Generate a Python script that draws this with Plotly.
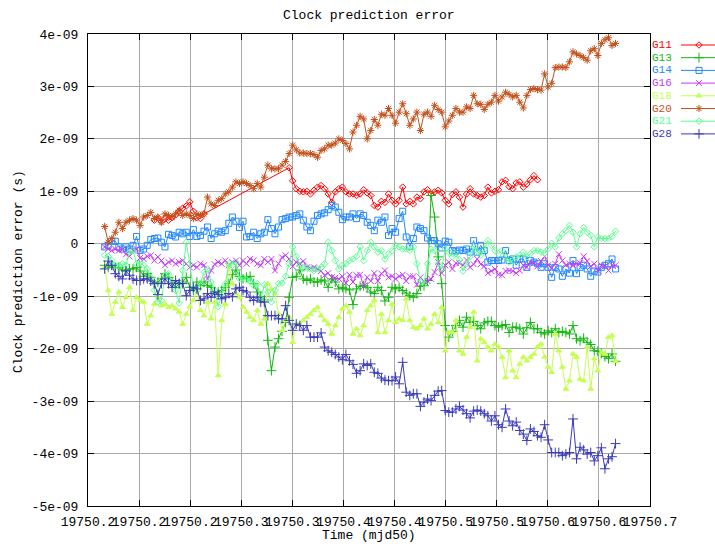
import plotly.graph_objects as go

# ---------------- data (clock prediction error, units of 1e-9 s) ----------------
EPOCH0 = 19750.1663          # first sample (mjd50)
STEP_DAYS = 5.0 / 1440.0     # 5-minute sampling
N_SAMPLES = 145
times = [EPOCH0 + k * STEP_DAYS for k in range(N_SAMPLES)]

G11 = ([None] * 14 +
       [0.45, 0.50, 0.42, 0.48, 0.45, 0.50, 0.55, 0.62, 0.68, 0.72, 0.80, 0.62, 0.50, 0.48, 0.57] +
       [None] * 23 +
       [1.45,
        1.20, 1.05, 1.00, 0.99, 1.00, 0.95, 1.02,
        1.08, 1.11, 1.05, 0.95, 0.79, 0.99, 1.05, 1.08, 0.99, 0.95,
        0.95, 0.92, 0.95, 1.03, 0.97, 0.92, 0.73, 0.70, 0.81, 0.79,
        0.95, 0.83, 0.76, 0.83, 1.08, 0.76, 0.81, 0.76, 0.89, 0.86,
        0.99, 1.03, 0.95, 0.99, 1.02, 0.97, 0.83, 0.76, 0.94, 0.99,
        0.89, 0.70, 0.95, 1.05, 0.95, 0.92, 0.89, 0.92, 1.08, 0.97,
        1.00, 1.03, 1.18, 1.21, 1.09, 1.05, 1.16, 1.18, 1.08, 1.14,
        1.22, 1.30, 1.22] +
       [None] * 22)

G13 = [-0.41, -0.45, -0.41, -0.45, -0.46, -0.50, -0.51, -0.48, -0.48, -0.45,
       -0.52, -0.62, -0.57, -0.64, -0.76, -0.73, -0.67, -0.57, -0.64, -0.73,
       -0.83, -0.76, -0.73, -0.64, -0.83, -0.89, -0.73, -0.80, -0.73, -0.80,
       -0.83, -0.95, -0.92, -0.89, -0.83, -0.76, -0.59, -0.50, -0.62, -0.67,
       -0.64, -0.62, -0.76, -0.92, -1.01, -1.07, -1.84, -2.42, -1.97, -1.81,
       -1.67, -1.50, -1.02, -0.64, -0.62, -0.50, -0.67, -0.70, -0.67, -0.73,
       -0.73, -0.69, -0.71, -0.83, -0.67, -0.73, -0.86, -0.83, -0.86, -0.88,
       -1.16, -0.86, -0.81, -0.80, -0.83, -0.92, -0.95, -0.83, -0.89, -1.09,
       -1.02, -0.83, -0.86, -0.83, -0.89, -0.94, -0.99, -1.02, -0.95, -0.81,
       -0.80, -0.70, 0.92, 0.51, -0.25, -0.76, -1.56, -1.78, -1.67, -1.56,
       -1.46, -1.59, -1.40, -1.50, -1.48, -1.56, -1.62, -1.51, -1.48, -1.48,
       -1.56, -1.59, -1.56, -1.54, -1.69, -1.59, -1.59, -1.62, -1.72, -1.60,
       -1.50, -1.62, -1.62, -1.69, -1.72, -1.66, -1.69, -1.62, -1.69, -1.67,
       -1.69, -1.72, -1.56, -1.81, -1.85, -1.80, -1.88, -1.92, -2.04, -2.05,
       -2.09, -2.15, -2.19, -2.10, -2.24]

G14 = [-0.06, -0.03, 0.05, 0.05, -0.06, -0.10, -0.06, -0.10, -0.03, 0.14,
       -0.13, -0.10, -0.03, 0.08, 0.10, 0.11, 0.03, -0.06, 0.18, 0.16,
       0.13, 0.22, 0.19, 0.22, 0.14, 0.27, 0.14, 0.16, 0.24, 0.32,
       0.10, 0.19, 0.24, 0.22, 0.25, 0.39, 0.51, 0.43, 0.31, 0.43,
       0.13, 0.14, 0.22, 0.10, 0.19, 0.22, 0.46, 0.29, 0.19, 0.32,
       0.46, 0.48, 0.51, 0.51, 0.54, 0.57, 0.45, 0.32, 0.25, 0.43,
       0.54, 0.57, 0.59, 0.65, 0.73, 0.70, 0.60, 0.46, 0.51, 0.51,
       0.57, 0.48, 0.57, 0.54, 0.41, 0.35, 0.25, 0.45, 0.41, 0.51,
       0.16, 0.29, 0.22, 0.48, 0.62, 0.13, -0.05, 0.10, 0.32, 0.29,
       0.25, 0.11, 0.06, 0.06, 0.00, -0.08, 0.05, 0.03, -0.13, -0.14,
       -0.12, -0.13, -0.10, -0.16, 0.06, -0.16, -0.03, -0.13, -0.35, -0.32,
       -0.32, -0.32, -0.31, -0.13, -0.32, -0.29, -0.41, -0.29, -0.29, -0.45,
       -0.32, -0.35, -0.38, -0.45, -0.38, -0.45, -0.64, -0.45, -0.48, -0.62,
       -0.48, -0.56, -0.32, -0.57, -0.45, -0.41, -0.48, -0.62, -0.52, -0.54,
       -0.45, -0.41, -0.38, -0.29, -0.48]

G16 = [-0.06, -0.10, -0.13, -0.10, -0.13, -0.11, -0.20, -0.24, -0.13, -0.10,
       -0.27, -0.29, -0.24, -0.22, -0.32, -0.25, -0.32, -0.41, -0.35, -0.32,
       -0.38, -0.35, -0.32, -0.38, -0.45, -0.41, -0.45, -0.38, -0.41, -0.67,
       -0.51, -0.39, -0.35, -0.38, -0.32, -0.41, -0.35, -0.32, -0.41, -0.32,
       -0.38, -0.29, -0.32, -0.38, -0.41, -0.29, -0.35, -0.29, -0.51, -0.38,
       -0.26, -0.22, -0.29, -0.43, -0.35, -0.38, -0.33, -0.45, -0.47, -0.45,
       -0.48, -0.52, -0.60, -0.56, -0.64, -0.65, -0.67, -0.62, -0.75, -0.59,
       -0.73, -0.60, -0.59, -0.81, -0.64, -0.71, -0.56, -0.71, -0.57, -0.51,
       -0.64, -0.62, -0.67, -0.62, -0.59, -0.71, -0.62, -0.62, -0.78, -0.64,
       -0.71, -0.71, -0.67, -0.54, -0.35, -0.56, -0.41, -0.35, -0.48, -0.37,
       -0.37, -0.41, -0.31, -0.45, -0.39, -0.29, -0.39, -0.43, -0.56, -0.52,
       -0.48, -0.59, -0.60, -0.52, -0.51, -0.52, -0.56, -0.51, -0.41, -0.45,
       -0.35, -0.37, -0.43, -0.33, -0.24, -0.41, -0.46, -0.38, -0.20, -0.32,
       -0.41, -0.38, -0.41, -0.38, -0.37, -0.24, -0.33, -0.43, -0.38, -0.51,
       -0.41, -0.43, -0.51, -0.41, -0.41]

G18 = [-0.45, -0.89, -1.34, -1.11, -0.92, -1.21, -1.02, -0.83, -1.27, -1.02,
       -1.08, -1.11, -1.53, -1.37, -1.15, -1.02, -1.18, -1.15, -1.21, -1.18,
       -1.24, -1.30, -1.53, -1.34, -1.20, -1.08, -0.89, -1.27, -1.37, -1.11,
       -1.43, -1.11, -2.51, -1.46, -1.15, -0.41, -0.76, -0.95, -1.02, -1.21,
       -1.30, -1.40, -1.46, -1.27, -1.53, -1.43, -0.76, -0.86, -0.95, -1.34,
       -1.65, -1.46, -1.40, -1.88, -1.53, -1.53, -1.46, -1.40, -1.34, -1.27,
       -1.21, -1.37, -1.46, -1.53, -1.72, -1.56, -1.40, -1.24, -1.18, -1.30,
       -1.72, -1.62, -1.75, -1.56, -1.27, -1.18, -1.08, -1.69, -1.34, -1.69,
       -1.46, -1.15, -1.50, -1.43, -1.46, -1.05, -1.46, -1.59, -1.62, -1.56,
       -1.43, -1.62, -1.53, -1.34, -1.50, -1.21, -2.04, -1.69, -1.69, -1.46,
       -2.04, -2.10, -1.78, -1.59, -1.30, -2.23, -1.81, -1.88, -1.97, -2.04,
       -1.91, -1.97, -2.16, -2.55, -2.04, -2.42, -2.55, -2.29, -2.16, -2.23,
       -2.16, -2.10, -1.97, -1.91, -2.16, -2.35, -2.45, -1.72, -2.04, -2.35,
       -2.77, -2.61, -2.10, -2.16, -2.58, -2.61, -1.97, -2.77, -2.19, -2.42,
       -2.07, -2.10, -1.78, -1.75, -2.24]

G20 = [0.33, 0.03, 0.10, 0.22, 0.41, 0.29, 0.41, 0.45, 0.48, 0.45,
       0.35, 0.51, 0.54, 0.60, 0.48, 0.51, 0.41, 0.57, 0.54, 0.51,
       0.57, 0.64, 0.54, 0.57, 0.54, 0.48, 0.57, 0.54, 0.57, 0.89,
       0.76, 0.73, 0.83, 0.86, 0.95, 0.99, 1.08, 1.18, 1.15, 1.18,
       1.15, 1.11, 1.05, 1.15, 1.08, 1.27, 1.50, 1.43, 1.43, 1.43,
       1.50, 1.57, 1.72, 1.88, 1.79, 1.73, 1.73, 1.72, 1.72, 1.70,
       1.65, 1.78, 1.81, 1.88, 1.88, 1.92, 2.00, 1.97, 1.91, 1.81,
       2.13, 2.26, 2.43, 2.38, 2.00, 2.16, 2.37, 2.26, 2.47, 2.45,
       2.58, 2.45, 2.30, 2.51, 2.67, 2.48, 2.26, 2.38, 2.51, 2.16,
       2.47, 2.51, 2.43, 2.64, 2.56, 2.51, 2.23, 2.34, 2.45, 2.58,
       2.51, 2.51, 2.61, 2.58, 2.83, 2.67, 2.66, 2.56, 2.66, 2.70,
       2.83, 2.72, 2.80, 2.89, 2.85, 2.80, 2.83, 2.70, 2.59, 2.83,
       2.94, 2.96, 2.94, 2.93, 3.24, 2.99, 3.06, 3.36, 3.37, 3.37,
       3.36, 3.47, 3.66, 3.62, 3.59, 3.55, 3.50, 3.68, 3.72, 3.59,
       3.82, 3.89, 3.93, 3.78, 3.82]

G21 = [-0.22, -0.24, -0.32, -0.41, -0.41, -0.38, -0.41, -0.16, -0.13, -0.38,
       -0.35, -0.41, -0.48, -0.64, -0.89, -1.11, -1.08, -0.60, -0.57, -0.73,
       -0.89, -1.13, -0.51, 0.03, -0.38, -0.86, -0.89, -0.75, -0.54, -0.48,
       -0.73, -0.89, -1.20, -0.95, -0.76, -0.38, -0.41, -0.35, -0.67, -0.64,
       -0.69, -0.71, -0.80, -0.76, -1.08, -0.78, -0.92, -1.11, -0.89, -0.76,
       -0.75, -0.62, -0.38, -0.06, -0.24, -0.41, -0.48, -0.45, -0.48, -0.51,
       -0.48, -0.45, -0.38, 0.03, -0.13, -0.32, -0.48, -0.41, -0.38, -0.32,
       -0.29, -0.24, -0.06, -0.32, -0.13, 0.03, -0.06, -0.16, -0.13, -0.29,
       -0.19, -0.13, -0.03, -0.06, -0.10, -0.10, -0.13, -0.06, -0.38, -0.73,
       -0.76, -0.38, -0.10, -0.13, -0.38, -0.48, -0.10, -0.16, -0.25, -0.19,
       -0.30, -0.52, -0.38, -0.25, -0.05, -0.14, -0.22, -0.11, 0.06, -0.03,
       -0.13, -0.19, -0.13, -0.25, -0.35, -0.32, -0.25, -0.22, -0.16, -0.25,
       -0.19, -0.13, -0.13, -0.16, -0.18, -0.10, 0.01, -0.06, 0.11, 0.19,
       0.25, 0.35, 0.22, -0.06, 0.19, 0.31, 0.22, 0.16, -0.06, 0.13,
       0.10, 0.10, 0.10, 0.14, 0.24]

G28 = [-0.48, -0.33, -0.41, -0.57, -0.62, -0.67, -0.52, -0.60, -0.67, -0.70,
       -0.70, -0.67, -0.67, -0.71, -0.76, -0.97, -0.76, -0.67, -0.76, -0.83,
       -0.70, -0.76, -0.76, -0.99, -0.89, -0.83, -0.86, -1.08, -1.05, -0.95,
       -1.02, -0.92, -0.97, -1.05, -1.02, -0.95, -1.01, -0.86, -0.83, -0.89,
       -0.92, -1.02, -1.08, -1.02, -1.11, -1.11, -1.37, -1.37, -1.37, -1.43,
       -1.43, -1.18, -1.46, -1.65, -1.53, -1.56, -1.65, -1.56, -1.78, -1.78,
       -1.78, -1.70, -1.97, -2.04, -2.07, -2.11, -2.16, -2.21, -2.11, -2.23,
       -2.30, -2.47, -2.42, -2.29, -2.32, -2.29, -2.45, -2.47, -2.56, -2.60,
       -2.61, -2.61, -2.54, -2.67, -2.26, -2.83, -2.89, -2.86, -2.86, -3.10,
       -3.02, -2.96, -2.99, -2.89, -2.81, -2.80, -3.18, -3.21, -3.21, -3.15,
       -3.10, -3.17, -3.24, -3.32, -3.19, -3.17, -3.19, -3.24, -3.28, -3.38,
       -3.28, -3.45, -3.50, -3.15, -3.38, -3.47, -3.40, -3.56, -3.63, -3.75,
       -3.53, -3.58, -3.66, -3.69, -3.45, -3.74, -3.98, -3.98, -3.98, -4.04,
       -4.01, -3.98, -3.34, -4.10, -3.88, -3.93, -4.01, -3.98, -4.14, -4.04,
       -3.89, -4.29, -4.10, -4.06, -3.81]

SERIES_NAMES = ["G11", "G13", "G14", "G16", "G18", "G20", "G21", "G28"]
SERIES_VALUES = [G11, G13, G14, G16, G18, G20, G21, G28]

X_TICKS = [19750.15, 19750.20, 19750.25, 19750.30, 19750.35, 19750.40,
           19750.45, 19750.50, 19750.55, 19750.60, 19750.65, 19750.70]
X_TICK_LABELS = ["19750.2", "19750.2", "19750.2", "19750.3", "19750.3", "19750.4",
                 "19750.4", "19750.5", "19750.5", "19750.6", "19750.6", "19750.7"]
Y_TICKS = [-5, -4, -3, -2, -1, 0, 1, 2, 3, 4]
Y_TICK_LABELS = ["-5e-09", "-4e-09", "-3e-09", "-2e-09", "-1e-09", "0",
                 "1e-09", "2e-09", "3e-09", "4e-09"]

# ---------------- styles ----------------
COLORS = {"G11": "#ff0000", "G13": "#10b810", "G14": "#2288ff", "G16": "#c43cf4",
          "G18": "#c4ff50", "G20": "#c4501a", "G21": "#58ff90", "G28": "#3a3abc"}
SYMBOLS = {"G11": "diamond-open", "G13": "cross-thin-open", "G14": "square-open",
           "G16": "x-thin-open", "G18": "triangle-up", "G20": "asterisk-open",
           "G21": "diamond-open", "G28": "cross-thin-open"}
SIZES = {"G11": 5, "G13": 7, "G14": 6, "G16": 6, "G18": 5, "G20": 6, "G21": 5, "G28": 7}

FONT = "Liberation Mono, DejaVu Sans Mono, monospace"
W, H = 715, 544
ML, MT, MB = 88, 34, 38
PLOT_RIGHT_PX = 650
paper_w = W - ML
paper_h = H - MT - MB
x_dom_end = (PLOT_RIGHT_PX - ML) / paper_w

fig = go.Figure()

for name, vals in zip(SERIES_NAMES, SERIES_VALUES):
    assert len(vals) == N_SAMPLES, (name, len(vals))
    c = COLORS[name]
    fig.add_trace(go.Scatter(
        x=times, y=vals, mode="lines+markers", name=name, connectgaps=True,
        line=dict(color=c, width=1),
        marker=dict(symbol=SYMBOLS[name], size=SIZES[name], color=c,
                    line=dict(color=c, width=1)),
        showlegend=False, xaxis="x", yaxis="y"))

# ---------------- legend (gnuplot style: label left, sample right) ----------------
LEG_X0, LEG_X1 = 681, 715
LEG_Y0, LEG_DY = 45.0, 12.7
y2_dom0 = 0.70
y2_top_px = MT
y2_bot_px = H - MB - y2_dom0 * paper_h
annotations = []
for k, name in enumerate(SERIES_NAMES):
    c = COLORS[name]
    yk = LEG_Y0 + k * LEG_DY
    fig.add_trace(go.Scatter(x=[LEG_X0, LEG_X1], y=[yk, yk], mode="lines",
                             line=dict(color=c, width=1), showlegend=False,
                             hoverinfo="skip", xaxis="x2", yaxis="y2"))
    fig.add_trace(go.Scatter(x=[(LEG_X0 + LEG_X1) / 2 + 1], y=[yk], mode="markers",
                             marker=dict(symbol=SYMBOLS[name], size=SIZES[name], color=c,
                                         line=dict(color=c, width=1)),
                             showlegend=False, hoverinfo="skip", xaxis="x2", yaxis="y2"))
    annotations.append(dict(text=name, xref="paper", x=(651 - ML) / paper_w, xanchor="left",
                            yref="y2", y=yk, yanchor="middle", showarrow=False,
                            borderpad=0,
                            font=dict(family=FONT, size=11, color=c)))

cx = ((ML + PLOT_RIGHT_PX) / 2 - ML) / paper_w
annotations += [
    dict(text="Clock prediction error", xref="paper", x=cx, xanchor="center",
         yref="paper", y=(H - MB - 15) / paper_h, yanchor="middle", showarrow=False,
         font=dict(family=FONT, size=13, color="black")),
    dict(text="Time (mjd50)", xref="paper", x=cx, xanchor="center",
         yref="paper", y=(H - MB - 535) / paper_h, yanchor="middle", showarrow=False,
         font=dict(family=FONT, size=13, color="black")),
    dict(text="Clock prediction error (s)", xref="paper", x=(18 - ML) / paper_w,
         xanchor="center", yref="paper", y=(H - MB - 272) / paper_h, yanchor="middle",
         textangle=-90, showarrow=False, font=dict(family=FONT, size=13, color="black")),
]

axis_common = dict(showgrid=True, gridcolor="#a8a8a8", gridwidth=1, zeroline=False,
                   showline=True, linecolor="black", linewidth=1, mirror="ticks",
                   ticks="inside", ticklen=6, tickcolor="black", tickwidth=1,
                   automargin=False,
                   tickfont=dict(family=FONT, size=13, color="black"))

fig.update_layout(
    width=W, height=H, autosize=False,
    margin=dict(l=ML, r=0, t=MT, b=MB, pad=0),
    paper_bgcolor="white", plot_bgcolor="white",
    showlegend=False,
    xaxis=dict(domain=[0, x_dom_end], range=[19750.15, 19750.70],
               tickmode="array", tickvals=X_TICKS, ticktext=X_TICK_LABELS,
               tickangle=0, ticklabelstandoff=3, anchor="y", **axis_common),
    yaxis=dict(domain=[0, 1], range=[-5, 4], tickmode="array", tickvals=Y_TICKS,
               ticktext=Y_TICK_LABELS, ticklabelstandoff=6, anchor="x", **axis_common),
    xaxis2=dict(domain=[(LEG_X0 - ML) / paper_w, 1.0], range=[LEG_X0, LEG_X1],
                visible=False, anchor="y2", fixedrange=True),
    yaxis2=dict(domain=[y2_dom0, 1.0], range=[y2_bot_px, y2_top_px],
                visible=False, anchor="x2", fixedrange=True),
    annotations=annotations,
)

fig.write_html("out.html")
